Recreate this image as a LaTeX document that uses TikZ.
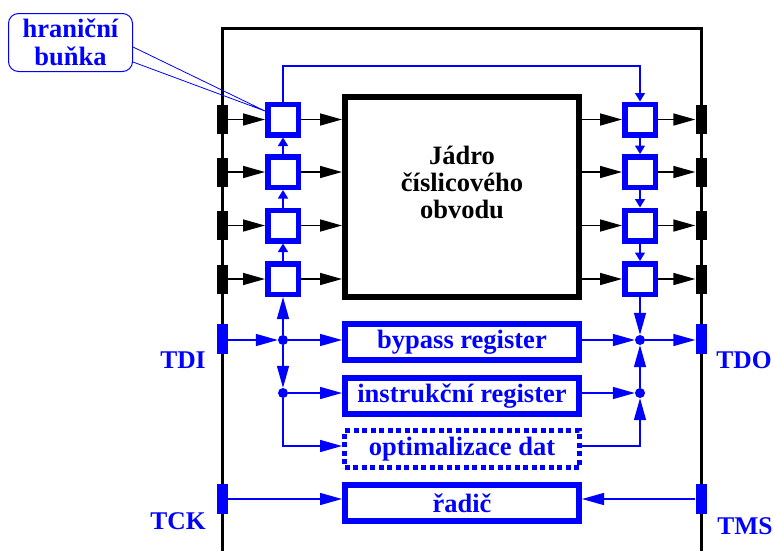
\documentclass[tikz,border=0pt]{standalone}
\usepackage{fontspec}
\setmainfont{Liberation Serif}
\usetikzlibrary{arrows.meta,calc}
\definecolor{jblue}{RGB}{0,0,255}
\tikzset{
  cell/.style={draw=jblue, line width=5.5pt, fill=white, minimum size=30.5pt, inner sep=0pt},
  pinbox/.style={fill=black, minimum width=11pt, minimum height=29pt, inner sep=0pt},
  bpin/.style={fill=jblue, minimum width=11pt, minimum height=30pt, inner sep=0pt},
  reg/.style={draw=jblue, line width=6pt, fill=white, minimum width=234pt, minimum height=36pt, inner sep=0pt,
    font=\bfseries\fontsize{26.5}{27}\selectfont, text=jblue},
  dotreg/.style={reg, line width=5pt, dash pattern=on 5pt off 3.5pt, minimum width=235pt, minimum height=37pt},
  corebox/.style={draw=black, line width=6pt, fill=white, minimum width=234pt, minimum height=200pt, inner sep=0pt},
  jdot/.style={circle, fill=jblue, minimum size=10pt, inner sep=0pt},
  barrow/.style={-{Triangle[length=22pt,width=12pt]}},
  sarrow/.style={-{Triangle[length=8.5pt,width=10pt]}},
  blk/.style={draw=black, line width=1.6pt},
  bl/.style={draw=jblue, line width=1.4pt},
  lbl/.style={font=\bfseries\fontsize{25.5}{25.5}\selectfont, text=jblue, inner sep=0pt},
  callout/.style={draw=jblue, line width=1pt, rounded corners=10pt, fill=white, minimum width=124pt, minimum height=58pt,
    align=center, font=\bfseries\fontsize{26.5}{28}\selectfont, text=jblue, inner sep=0pt}
}
\begin{document}
\begin{tikzpicture}[x=1pt,y=-1pt]
\useasboundingbox (0,0) rectangle (774,550);
% chip outline
\draw[line width=3pt] (222,552) -- (222,28) -- (701,28) -- (701,552);
% core
\node[corebox] (core) at (462,197) {};
\node[font=\bfseries\fontsize{26.5}{27}\selectfont, align=center, inner sep=0pt] (coretext) at (462,182) {Jádro\\číslicového\\obvodu};
% cells and pins
\foreach \i/\y in {1/119.5,2/172,3/225.5,4/279} {
  \node[cell] (l\i) at (283,\y) {};
  \node[cell] (r\i) at (640,\y) {};
  \node[pinbox] (pl\i) at (222,\y) {};
  \node[pinbox] (pr\i) at (701,\y) {};
  \draw[blk, barrow] (pl\i.east) -- (l\i.west);
  \draw[blk, barrow] (l\i.east) -- (l\i.east -| core.west);
  \draw[blk, barrow] (r\i.west -| core.east) -- (r\i.west);
  \draw[blk, barrow] (r\i.east) -- (pr\i.west);
}
% scan chain
\draw[bl, sarrow] (l2) -- (l1);
\draw[bl, sarrow] (l3) -- (l2);
\draw[bl, sarrow] (l4) -- (l3);
\draw[bl, sarrow] (r1) -- (r2);
\draw[bl, sarrow] (r2) -- (r3);
\draw[bl, sarrow] (r3) -- (r4);
\draw[bl, sarrow] (l1.north) -- (283,66) -| (r1.north);
% registers
\node[reg] (byp) at (462,342) {bypass register};
\node[reg] (ins) at (462,396) {instrukční register};
\node[dotreg] (opt) at (462,449) {optimalizace dat};
\node[reg] (rid) at (462,503) {řadič};
% pins TAP
\node[bpin] (tdi) at (222,339) {};
\node[bpin] (tck) at (222,499) {};
\node[bpin] (tdo) at (701,339) {};
\node[bpin] (tms) at (701,499) {};
% dots
\node[jdot] (d1) at (283,340) {};
\node[jdot] (d2) at (283,393) {};
\node[jdot] (e1) at (640,340) {};
\node[jdot] (e2) at (640,393) {};
% blue connections
\draw[bl, barrow] (tdi.east |- d1) -- (d1);
\draw[bl, barrow] (d1) -- (d1 -| byp.west);
\draw[bl, barrow] (d1) -- (l4);
\draw[bl, barrow] (d1) -- (d2);
\draw[bl, barrow] (d2) -- (d2 -| ins.west);
\coordinate (oy) at (283,446);
\draw[bl, barrow] (d2) -- (oy) -- (oy -| opt.west);
\draw[bl, barrow] (byp.east |- e1) -- (e1);
\draw[bl, barrow] (ins.east |- e2) -- (e2);
\draw[bl, barrow] (r4) -- (e1);
\draw[bl, barrow] (e2) -- (e1);
\draw[bl, barrow] (e1) -- (e1 -| tdo.west);
\coordinate (oe) at (640,446);
\draw[bl, barrow] (oe -| opt.east) -- (oe) -- (e2);
\draw[bl, barrow] (tck.east) -- (tck -| rid.west);
\draw[bl, barrow] (tms.west) -- (tms -| rid.east);
% labels
\node[lbl] (ltdi) at (183,360) {TDI};
\node[lbl] (ltdo) at (744,360) {TDO};
\node[lbl] (ltck) at (178,521) {TCK};
\node[lbl] (ltms) at (745,526) {TMS};
% callout
\node[callout] (cb) at (70.5,42.5) {hraniční\\buňka};
\coordinate (cp) at (265,111);
\draw[jblue, line width=0.8pt] (133,47) -- (cp) -- (133,62);
\end{tikzpicture}
\end{document}
